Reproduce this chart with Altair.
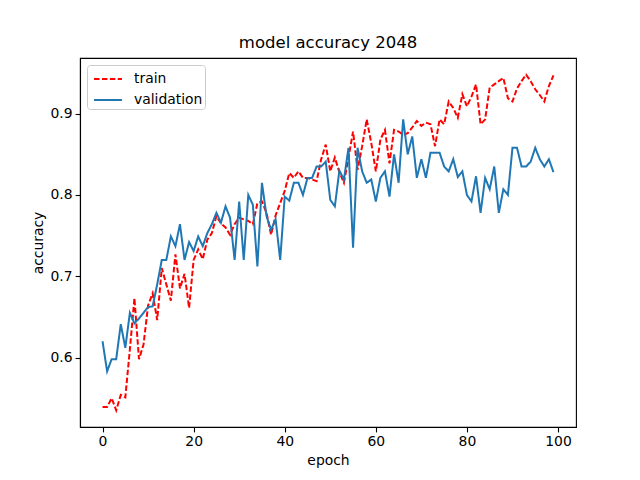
import altair as alt
import pandas as pd

epochs = list(range(100))

train = [0.539, 0.539, 0.550, 0.535, 0.554, 0.551, 0.610, 0.673, 0.598, 0.616,
         0.664, 0.679, 0.646, 0.710, 0.690, 0.670, 0.727, 0.685, 0.703, 0.661,
         0.720, 0.733, 0.721, 0.745, 0.753, 0.774, 0.765, 0.760, 0.751, 0.764,
         0.772, 0.770, 0.768, 0.764, 0.790, 0.792, 0.778, 0.751, 0.775, 0.790,
         0.805, 0.827, 0.821, 0.829, 0.821, 0.821, 0.819, 0.817, 0.844, 0.862,
         0.829, 0.846, 0.828, 0.815, 0.846, 0.878, 0.831, 0.860, 0.893, 0.864,
         0.829, 0.868, 0.880, 0.839, 0.880, 0.878, 0.874, 0.876, 0.883, 0.891,
         0.885, 0.889, 0.887, 0.860, 0.893, 0.887, 0.915, 0.907, 0.895, 0.924,
         0.909, 0.921, 0.936, 0.887, 0.893, 0.932, 0.936, 0.940, 0.944, 0.919,
         0.915, 0.931, 0.940, 0.948, 0.940, 0.930, 0.923, 0.915, 0.934, 0.947]

validation = [0.620, 0.583, 0.598, 0.598, 0.641, 0.612, 0.655, 0.642, 0.648, 0.655,
              0.662, 0.663, 0.690, 0.720, 0.720, 0.749, 0.737, 0.764, 0.720, 0.742,
              0.731, 0.749, 0.737, 0.753, 0.764, 0.778, 0.766, 0.786, 0.772, 0.720,
              0.792, 0.720, 0.800, 0.788, 0.712, 0.815, 0.774, 0.757, 0.770, 0.720,
              0.798, 0.793, 0.815, 0.815, 0.800, 0.821, 0.821, 0.835, 0.835, 0.841,
              0.794, 0.786, 0.830, 0.819, 0.858, 0.735, 0.858, 0.829, 0.815, 0.819,
              0.792, 0.821, 0.829, 0.798, 0.850, 0.815, 0.893, 0.850, 0.872, 0.821,
              0.844, 0.821, 0.852, 0.852, 0.852, 0.835, 0.829, 0.844, 0.822, 0.829,
              0.800, 0.792, 0.823, 0.778, 0.821, 0.807, 0.835, 0.778, 0.807, 0.800,
              0.858, 0.858, 0.835, 0.835, 0.841, 0.858, 0.844, 0.835, 0.844, 0.828]

series_names = ["train", "validation"]
series_colors = ["#ff0000", "#1f77b4"]
x_ticks = [0, 20, 40, 60, 80, 100]
y_ticks = [0.6, 0.7, 0.8, 0.9]

df = pd.concat([
    pd.DataFrame({"epoch": epochs, "accuracy": train, "series": "train"}),
    pd.DataFrame({"epoch": epochs, "accuracy": validation, "series": "validation"}),
])

FONT = "DejaVu Sans"

chart = alt.Chart(df).mark_line(strokeWidth=2).encode(
    x=alt.X("epoch:Q", title="epoch",
            scale=alt.Scale(domain=[-4.95, 103.95], nice=False, zero=False),
            axis=alt.Axis(values=x_ticks, format="d")),
    y=alt.Y("accuracy:Q", title="accuracy",
            scale=alt.Scale(domain=[0.5145, 0.9685], nice=False, zero=False),
            axis=alt.Axis(values=y_ticks, format=".1f")),
    color=alt.Color("series:N", title=None,
                    scale=alt.Scale(domain=series_names, range=series_colors),
                    legend=alt.Legend(orient="top-left", offset=7)),
    strokeDash=alt.StrokeDash("series:N", title=None,
                              scale=alt.Scale(domain=series_names, range=[[5.5, 2.4], [1, 0]])),
    detail="series:N",
).properties(
    width=496,
    height=369,
    title=alt.Title("model accuracy 2048", font=FONT, fontSize=16.5,
                    fontWeight="normal", color="black", offset=7),
    autosize=alt.AutoSizeParams(type="none"),
    padding={"left": 72, "top": 50, "right": 56, "bottom": 45},
).configure_view(
    stroke="black", strokeWidth=1.1
).configure_axis(
    grid=False, domainColor="black", domainWidth=1.1, tickColor="black", tickWidth=1.1,
    tickSize=4.9, labelColor="black", titleColor="black", labelFont=FONT, titleFont=FONT,
    labelFontSize=13.9, titleFontSize=13.9, titleFontWeight="normal", labelPadding=3,
    titlePadding=5,
).configure_legend(
    labelFont=FONT, labelFontSize=13.9, labelColor="black", fillColor="white",
    strokeColor="#cccccc", cornerRadius=3, padding=2, symbolType="M-1.27,0H1.27",
    symbolSize=484, symbolStrokeWidth=2, rowPadding=2, symbolOffset=7, labelOffset=14,
)

chart.save("out.html", embed_options={"renderer": "svg", "actions": False})
